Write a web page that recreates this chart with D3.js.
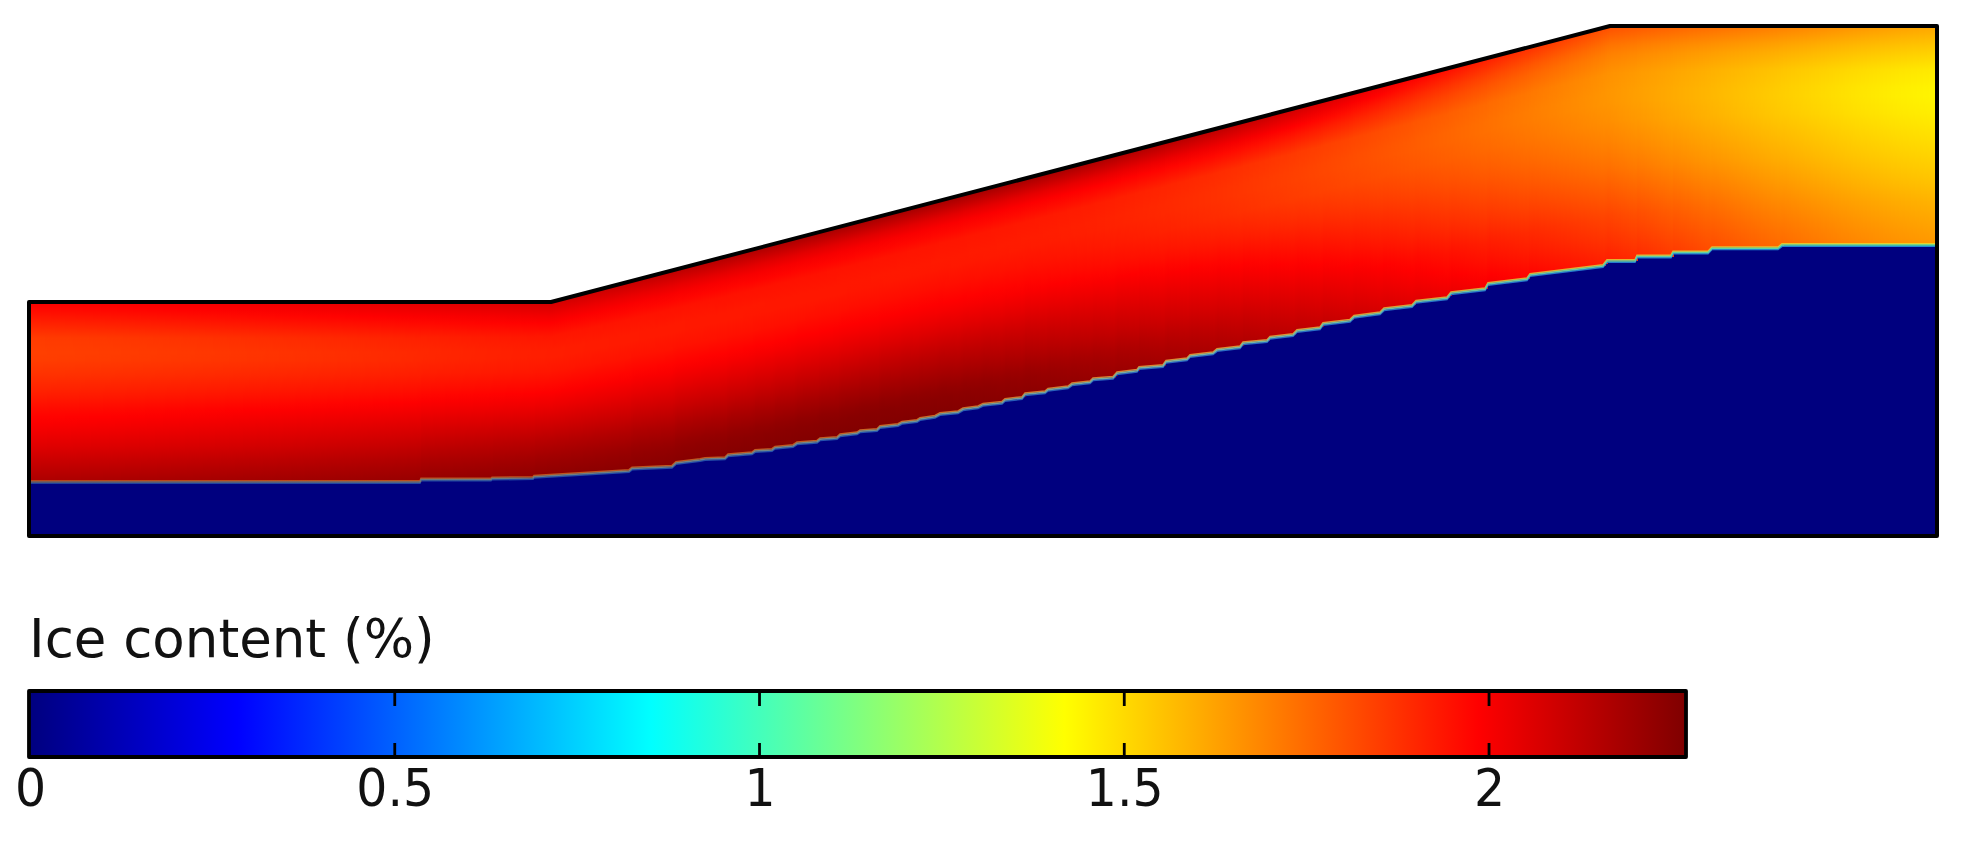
<!DOCTYPE html>
<html lang="en">

<head>
	<meta charset="utf-8">
	<title>Ice content</title>
	<script src="https://d3js.org/d3.v7.min.js"></script>
	<style type="text/css">
		html, body {
			margin: 0;
			background: #fff;
		}
		svg {
			display: block;
			filter: blur(0.7px);
		}
		text {
			font-family: "DejaVu Sans", sans-serif;
			fill: #111;
		}
		.legend-title {
			font-size: 53px;
		}
		.cbar-axis text {
			font-size: 51px;
		}
		.cbar-axis path,
		.cbar-axis line {
			display: none;
		}
	</style>
</head>

<body>
	<svg width="1968" height="844"></svg>

	<script type="text/javascript">

// slope geometry, distance and elevation in model units
var surfaceDist = [0, 52.2, 158.1, 190.8];
var surfaceElev = [23.4, 23.4, 51, 51];

// thaw front
var frontDist = [0, 39.1, 39.2, 46.2, 46.3, 50.4, 50.5, 60, 60.3, 64.3, 64.7, 67.1,
	67.6, 69.6, 69.9, 72.3, 72.6, 74.3, 74.6, 76.4, 76.8, 78.8, 79.1, 80.8, 81.1,
	82.8, 83.1, 84.8, 85.1, 86.9, 87.3, 88.8, 89.1, 90.6, 91.1, 92.9, 93.4, 94.9,
	95.4, 97.3, 97.6, 99.3, 99.6, 101.6, 101.9, 103.9, 104.3, 106.1, 106.4, 108.4,
	108.8, 110.8, 111, 113.4, 113.7, 115.8, 116.1, 118.4, 118.8, 121.1, 121.4, 123.8,
	124.1, 126.4, 126.8, 129.1, 129.4, 132.1, 132.5, 135.1, 135.5, 138.3, 138.7,
	141.8, 142.2, 145.6, 145.9, 149.8, 150.1, 157.4, 157.8, 160.6, 160.8, 164.2,
	164.4, 167.9, 168.3, 174.9, 175.3, 190.8];
var frontElev = [5.4, 5.4, 5.65, 5.65, 5.75, 5.8, 5.93, 6.5, 6.75, 6.93, 7.3, 7.6,
	7.7, 7.77, 8.07, 8.27, 8.5, 8.6, 8.83, 9, 9.27, 9.43, 9.67, 9.8, 10.07,
	10.27, 10.47, 10.6, 10.9, 11.1, 11.33, 11.5, 11.7, 11.93, 12.2, 12.37, 12.67, 12.87,
	13.13, 13.33, 13.6, 13.8, 14.17, 14.37, 14.63, 14.87, 15.17, 15.37, 15.67, 15.83,
	16.27, 16.53, 16.8, 17, 17.43, 17.67, 18, 18.27, 18.6, 18.87, 19.27, 19.5,
	19.83, 20.1, 20.5, 20.77, 21.2, 21.53, 21.93, 22.27, 22.67, 23, 23.43,
	23.77, 24.27, 24.67, 25.2, 25.67, 26.1, 27, 27.5, 27.5, 27.95, 27.95,
	28.35, 28.35, 28.77, 28.77, 29.1, 29.1];

// ice content read at stations along the slope, top of the layer down to the front
var stationDist = [0, 27, 52.4, 72, 92, 110, 127, 142, 157.9, 173, 190.8];
var depthFrac = [0, 0.1, 0.2, 0.3, 0.4, 0.5, 0.6, 0.7, 0.8, 0.9, 1];
var iceAtStation = [
	[1.99, 1.92, 1.85, 1.84, 1.87, 1.91, 1.96, 2.00, 2.05, 2.11, 2.17],
	[2.03, 1.96, 1.89, 1.87, 1.90, 1.94, 1.99, 2.04, 2.09, 2.15, 2.20],
	[2.08, 2.00, 1.94, 1.92, 1.94, 1.98, 2.03, 2.09, 2.15, 2.20, 2.24],
	[2.18, 2.02, 1.95, 1.93, 1.95, 1.99, 2.05, 2.11, 2.18, 2.24, 2.26],
	[2.20, 2.01, 1.94, 1.93, 1.96, 2.00, 2.06, 2.13, 2.19, 2.25, 2.27],
	[2.18, 2.00, 1.92, 1.91, 1.93, 1.96, 2.01, 2.06, 2.11, 2.17, 2.21],
	[2.10, 1.97, 1.86, 1.84, 1.85, 1.89, 1.94, 1.99, 2.04, 2.09, 2.14],
	[1.96, 1.85, 1.78, 1.76, 1.78, 1.81, 1.85, 1.89, 1.94, 1.98, 2.03],
	[1.80, 1.70, 1.66, 1.65, 1.67, 1.70, 1.74, 1.79, 1.84, 1.88, 1.93],
	[1.72, 1.62, 1.56, 1.54, 1.55, 1.58, 1.61, 1.65, 1.69, 1.73, 1.76],
	[1.60, 1.52, 1.45, 1.42, 1.44, 1.47, 1.50, 1.53, 1.57, 1.60, 1.63]
];

// colour bar
var iceMax = 2.27;
var cbarTicks = [0, 0.5, 1, 1.5, 2];
var jetValues = [0, 0.284, 0.851, 1.418, 1.985, 2.27];
var jetColors = ['#00007f', '#0000ff', '#00ffff', '#ffff00', '#ff0000', '#7f0000'];

// the front smears over a few pixels, so it shows as three thin colours
var frontStops = [0, 0.4, 0.6, 1];
var frontUpper = ['#b8451c', '#c25a20', '#dc8a34', '#e8d22c'];
var frontMiddle = ['#6a6a68', '#70868a', '#7cb4a0', '#54e0a4'];
var frontLower = ['#1f3f9c', '#2450ac', '#2a68c4', '#1e8ad8'];

var svg = d3.select('svg');
var defs = svg.append('defs');

var xScale = d3.scaleLinear().domain([0, 190.8]).range([29, 1937]);
var yScale = d3.scaleLinear().domain([0, 51]).range([536, 26]);
var cbarScale = d3.scaleLinear().domain([0, iceMax]).range([30, 1686]);
var jet = d3.scaleLinear().domain(jetValues).range(jetColors);

var surfaceAt = d3.scaleLinear().domain(surfaceDist).range(surfaceElev);
var frontAt = d3.scaleLinear().domain(frontDist).range(frontElev);

var frontPoints = frontDist.map((d, i) => [d, frontElev[i]]);
var surfacePoints = surfaceDist.map((d, i) => [d, surfaceElev[i]]);

var line = d3.line().x((d) => xScale(d[0])).y((d) => yScale(d[1]));

// ice value between the stations
function iceBetween(dist, frac) {
	var s = Math.min(d3.bisectRight(stationDist, dist) - 1, stationDist.length - 2);
	var t = (dist - stationDist[s]) / (stationDist[s + 1] - stationDist[s]);
	var r = Math.min(d3.bisectRight(depthFrac, frac) - 1, depthFrac.length - 2);
	var u = (frac - depthFrac[r]) / (depthFrac[r + 1] - depthFrac[r]);
	var a = iceAtStation[s][r] + (iceAtStation[s][r + 1] - iceAtStation[s][r]) * u;
	var b = iceAtStation[s + 1][r] + (iceAtStation[s + 1][r + 1] - iceAtStation[s + 1][r]) * u;
	return a + (b - a) * t;
}

// averaged over a short window, so the stations don't show up as vertical bands
var smoothOffsets = [-8, -4, 0, 4, 8];
function iceAt(dist, frac) {
	return d3.mean(smoothOffsets, (o) => iceBetween(Math.max(0, Math.min(190.8, dist + o)), frac));
}

// frozen ground under the front
var groundArea = d3.area()
	.x((d) => xScale(d[0]))
	.y0(yScale(0))
	.y1((d) => yScale(d[1]));

svg.append('path')
	.attr('d', groundArea(frontPoints))
	.attr('fill', '#00007f');

// active layer, thin columns that each carry their own vertical gradient
var colWidth = 2;
var columns = d3.range(xScale(0), xScale(190.8), colWidth).map((px) => xScale.invert(px));
var fracSteps = d3.range(0, 1.0001, 0.04);

var colGrads = defs.selectAll('linearGradient.col')
	.data(columns)
	.enter()
	.append('linearGradient')
	.attr('class', 'col')
	.attr('id', (d, i) => 'col' + i)
	.attr('x1', 0).attr('x2', 0).attr('y1', 0).attr('y2', 1);

colGrads.selectAll('stop')
	.data((d) => fracSteps.map((f) => ({ f: f, dist: d })))
	.enter()
	.append('stop')
	.attr('offset', (s) => s.f)
	.attr('stop-color', (s) => jet(iceAt(s.dist, s.f)));

svg.append('g')
	.selectAll('rect')
	.data(columns)
	.enter()
	.append('rect')
	.attr('shape-rendering', 'crispEdges')
	.attr('x', (d) => xScale(d))
	.attr('width', colWidth + 0.5)
	.attr('y', (d) => yScale(surfaceAt(d + 0.1)))
	.attr('height', (d) => yScale(frontAt(d)) - yScale(surfaceAt(d + 0.1)))
	.attr('fill', (d, i) => 'url(#col' + i + ')');

// the colours of the front line, warm side on top
function frontLine(id, colors, shift) {
	var g = defs.append('linearGradient')
		.attr('id', id)
		.attr('gradientUnits', 'userSpaceOnUse')
		.attr('x1', xScale(0)).attr('x2', xScale(190.8))
		.attr('y1', 0).attr('y2', 0);
	g.selectAll('stop')
		.data(frontStops)
		.enter()
		.append('stop')
		.attr('offset', (d) => d)
		.attr('stop-color', (d, i) => colors[i]);
	svg.append('path')
		.attr('d', line(frontPoints))
		.attr('transform', `translate(0,${shift})`)
		.attr('fill', 'none')
		.attr('stroke', `url(#${id})`)
		.attr('stroke-width', 1.5);
}
frontLine('frontUpper', frontUpper, -1.3);
frontLine('frontLower', frontLower, 1.3);
frontLine('frontMiddle', frontMiddle, 0);

// outline of the slope
var outline = [[0, 0]].concat(surfacePoints, [[190.8, 0]]);
svg.append('path')
	.attr('d', line(outline) + 'Z')
	.attr('fill', 'none')
	.attr('stroke', '#000')
	.attr('stroke-width', 4)
	.attr('stroke-linejoin', 'round');

// legend
svg.append('text')
	.attr('class', 'legend-title')
	.attr('x', 29)
	.attr('y', 657)
	.text('Ice content (%)');

var cbarTop = 691;
var cbarBottom = 757;

var cbarGrad = defs.append('linearGradient')
	.attr('id', 'cbar')
	.attr('gradientUnits', 'userSpaceOnUse')
	.attr('x1', cbarScale(0)).attr('x2', cbarScale(iceMax))
	.attr('y1', 0).attr('y2', 0);

cbarGrad.selectAll('stop')
	.data(jetValues)
	.enter()
	.append('stop')
	.attr('offset', (d) => d / iceMax)
	.attr('stop-color', (d, i) => jetColors[i]);

svg.append('rect')
	.attr('x', cbarScale(0) - 1)
	.attr('y', cbarTop)
	.attr('width', cbarScale(iceMax) - cbarScale(0) + 1)
	.attr('height', cbarBottom - cbarTop)
	.attr('fill', 'url(#cbar)')
	.attr('stroke', '#000')
	.attr('stroke-width', 3.8)
	.attr('stroke-linejoin', 'round');

var cbarMarks = svg.append('g')
	.selectAll('g')
	.data(cbarTicks.slice(1))
	.enter()
	.append('g')
	.attr('transform', (d) => `translate(${cbarScale(d)},0)`);

cbarMarks.append('line')
	.attr('y1', cbarTop)
	.attr('y2', cbarTop + 15)
	.attr('stroke', '#000')
	.attr('stroke-width', 2.8);

cbarMarks.append('line')
	.attr('y1', cbarBottom - 14)
	.attr('y2', cbarBottom)
	.attr('stroke', '#000')
	.attr('stroke-width', 2.8);

svg.append('g')
	.attr('class', 'cbar-axis')
	.attr('transform', `translate(0,${cbarBottom})`)
	.call(d3.axisBottom(cbarScale)
		.tickValues(cbarTicks)
		.tickFormat((d) => String(d))
		.tickSize(0)
		.tickPadding(12.3))
	.selectAll('text')
	.attr('transform', 'scale(0.96,1)');

	</script>
</body>

</html>
